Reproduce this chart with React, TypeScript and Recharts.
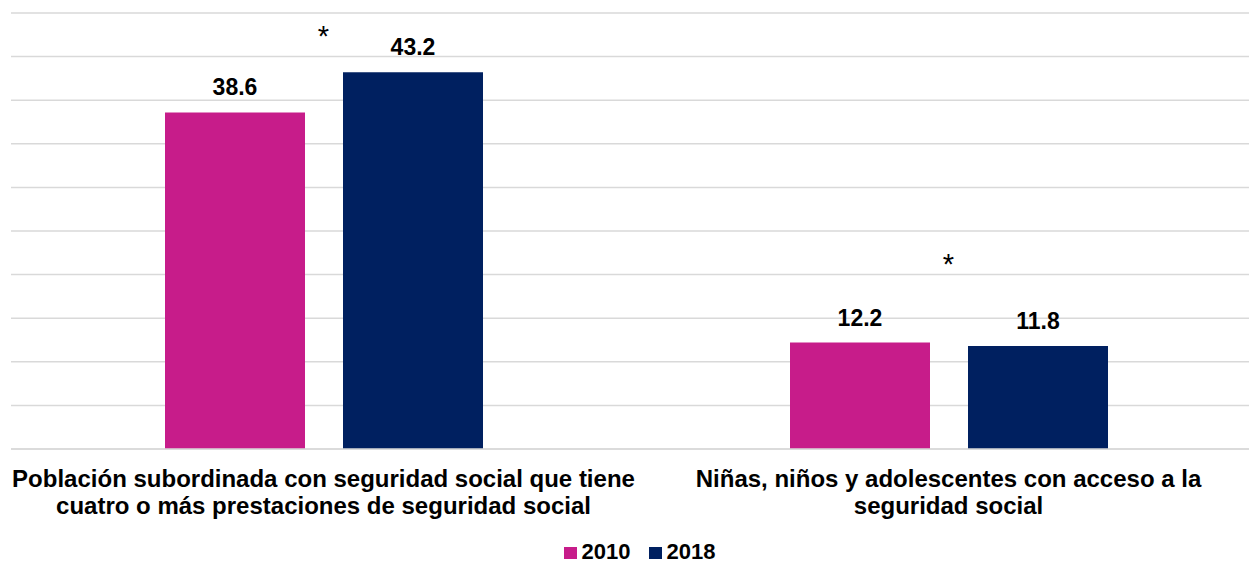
import React from 'react';
import { ComposedChart, Bar, Line, XAxis, YAxis, CartesianGrid, LabelList, Legend } from 'recharts';

const categories = [
  ['Población subordinada con seguridad social que tiene', 'cuatro o más prestaciones de seguridad social'],
  ['Niñas, niños y adolescentes con acceso a la', 'seguridad social'],
];
const values2010 = [38.6, 12.2];
const values2018 = [43.2, 11.8];
const starLevels = [47.9, 21.8];
const yTicks = [0, 5, 10, 15, 20, 25, 30, 35, 40, 45, 50];

const data = categories.map((c, i) => ({
  name: c.join(' '),
  idx: i,
  y2010: values2010[i],
  y2018: values2018[i],
  star: starLevels[i],
}));

const FONT = '"Liberation Sans", Arial, sans-serif';

const CatTick = (props: any) => {
  const { x, y, payload } = props;
  const lines = categories[payload.index] || [];
  return (
    <text x={x} y={y} textAnchor="middle" fontFamily={FONT} fontWeight="bold" fontSize={24} fill="#000">
      {lines.map((l, i) => (
        <tspan key={i} x={x} dy={i === 0 ? 30 : 27}>{l}</tspan>
      ))}
    </text>
  );
};

const StarLabel = (props: any) => {
  const { x, y } = props;
  return (
    <text x={x} y={y} dy={15} textAnchor="middle" fontFamily={FONT} fontSize={29} fill="#000">*</text>
  );
};

const LegendContent = () => (
  <div style={{ display: 'flex', justifyContent: 'center', alignItems: 'center', fontFamily: FONT, fontWeight: 'bold', fontSize: 22, lineHeight: '25px', height: 25 }}>
    {[['2010', '#C71C8A'], ['2018', '#002060']].map(([t, c]) => (
      <div key={t} style={{ display: 'flex', alignItems: 'center', margin: '0 9px' }}>
        <span style={{ display: 'inline-block', width: 13, height: 12, background: c, marginRight: 5, marginTop: 3 }} />
        <span>{t}</span>
      </div>
    ))}
  </div>
);

export default function App() {
  return (
    <div style={{ position: 'absolute', left: 0, top: 0, width: 1249, height: 565, overflow: 'hidden', background: '#fff' }}>
      <ComposedChart
        width={1262}
        height={565}
        data={data}
        margin={{ top: 13, right: 1, bottom: 0, left: 11 }}
        barCategoryGap={154}
        barGap={38}
      >
        <CartesianGrid vertical={false} stroke="#d9d9d9" strokeWidth={1.5} />
        <XAxis dataKey="name" axisLine={{ stroke: '#d9d9d9', strokeWidth: 1.5 }} tickLine={false} height={116} tick={<CatTick />} interval={0} />
        <YAxis hide domain={[0, 50]} ticks={yTicks} width={0} />
        <Legend verticalAlign="middle" align="center" layout="horizontal" content={<LegendContent />} wrapperStyle={{ top: 539, left: 15, width: 1249 }} />
        <Bar dataKey="y2010" fill="#C71C8A" isAnimationActive={false}>
          <LabelList dataKey="y2010" position="top" offset={17} style={{ fontFamily: FONT, fontWeight: 'bold', fontSize: 23, fill: '#000' }} />
        </Bar>
        <Bar dataKey="y2018" fill="#002060" isAnimationActive={false}>
          <LabelList dataKey="y2018" position="top" offset={17} style={{ fontFamily: FONT, fontWeight: 'bold', fontSize: 23, fill: '#000' }} />
        </Bar>
        <Line dataKey="star" stroke="none" dot={false} activeDot={false} legendType="none" isAnimationActive={false} label={<StarLabel />} />
      </ComposedChart>
    </div>
  );
}
